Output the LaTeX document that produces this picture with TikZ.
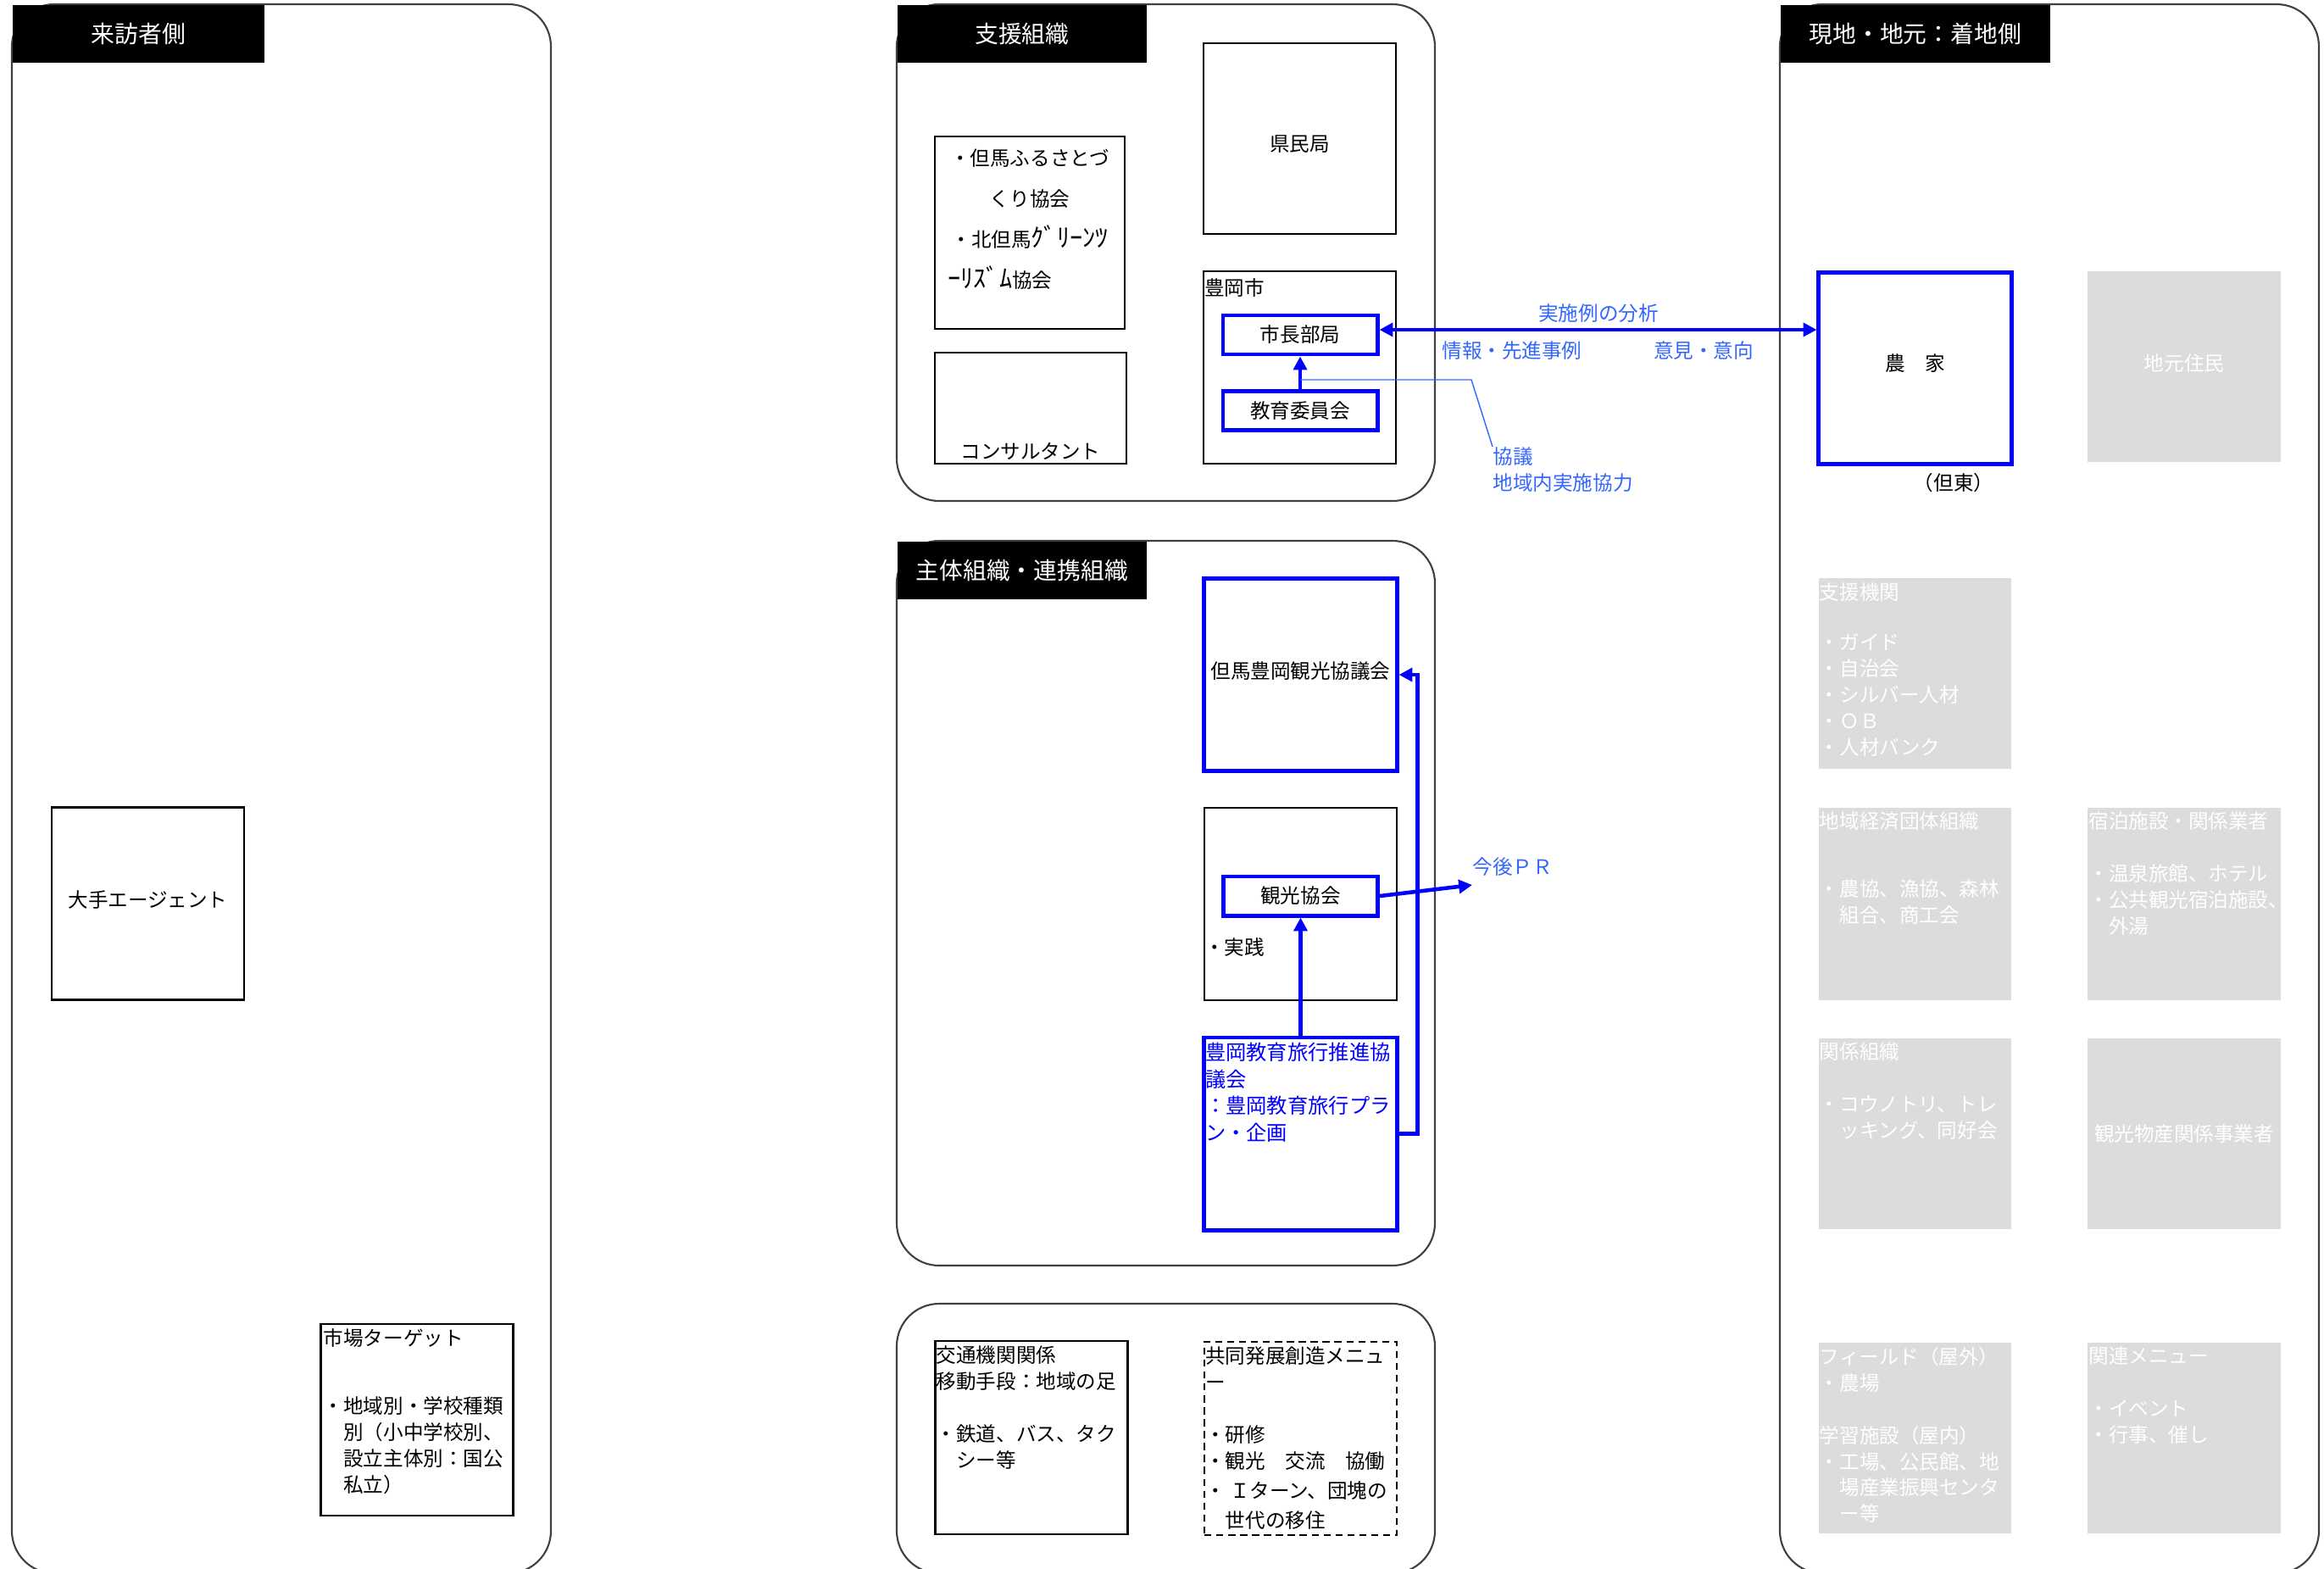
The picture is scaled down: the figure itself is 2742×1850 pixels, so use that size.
\documentclass[tikz,border=0pt]{standalone}
\usepackage{fontspec}
\setmainfont{Noto Sans CJK JP}
\usetikzlibrary{arrows.meta}

\definecolor{linkblue}{HTML}{0000FF}
\definecolor{noteblue}{HTML}{3366FF}
\definecolor{cellgray}{HTML}{DCDCDC}
\definecolor{framegray}{HTML}{404040}

\newcommand{\bodysize}{\fontsize{6.7pt}{8.8pt}\selectfont}
\newcommand{\tabsize}{\fontsize{7.9pt}{9.5pt}\selectfont}
\newcommand{\halfkana}[1]{{\fontsize{8.6pt}{13.6pt}\selectfont #1}}

\tikzset{
  every node/.style={font=\bodysize},
  panel/.style={draw=framegray, line width=0.6pt, rounded corners=0.5cm},
  titletab/.style={fill=black, text=white, font=\tabsize, anchor=north west,
    minimum height=0.68cm, inner sep=0pt},
  cellsize/.style={minimum width=2.27cm, minimum height=2.27cm, inner sep=0pt},
  blackbox/.style={cellsize, draw=black, line width=0.75pt},
  dashbox/.style={blackbox, dash pattern=on 2.4pt off 1.6pt},
  bluebox/.style={cellsize, draw=linkblue, line width=1.4pt},
  graybox/.style={cellsize, fill=cellgray, text=white},
  bluebar/.style={draw=linkblue, line width=1.4pt, minimum width=1.82cm,
    minimum height=0.46cm, inner sep=0pt},
  txt/.style={inner sep=0pt, align=left, anchor=north west},
  graytxt/.style={txt, text=white},
  note/.style={inner sep=0pt, text=noteblue},
  arr/.style={draw=linkblue, line width=1.3pt},
  >={Triangle[length=4.5pt,width=4.5pt]},
}

\begin{document}
\begin{tikzpicture}[x=0.01cm, y=-0.01cm]
\useasboundingbox (0,0) rectangle (2742,1850);
\clip (0,0) rectangle (2742,1850);

% panels
\draw[panel] (14,5) rectangle (650,1856);
\draw[panel] (1058,5) rectangle (1693,591);
\draw[panel] (1058,638) rectangle (1693,1493);
\draw[panel] (1058,1538) rectangle (1693,1856);
\draw[panel] (2100,5) rectangle (2736,1856);

\node[titletab, minimum width=2.97cm] (visitor) at (14,5) {来訪者側};
\node[titletab, minimum width=2.94cm] (support) at (1058,5) {支援組織};
\node[titletab, minimum width=2.94cm] (actor) at (1058,638) {主体組織・連携組織};
\node[titletab, minimum width=3.18cm] (local) at (2100,5) {現地・地元：着地側};

% visitor side
\node[blackbox, text depth=0.3em] (agent) at (174.5,1066) {大手エージェント};
\node[blackbox, minimum height=2.26cm] (market) at (492,1675) {};
\node[txt] (markettxt) at ([xshift=0.04cm,yshift=-0.06cm]market.north west)
  {市場ターゲット\\[0.49cm]・地域別・学校種類\\　別（小中学校別、\\　設立主体別：国公\\　私立）};

% support
\node[blackbox, minimum height=2.25cm, text height=0.92em] (kenmin) at (1533.5,163.5) {県民局};
\node[blackbox, minimum width=2.24cm] (furusato) at (1215,274.5) {};
\node[inner sep=0pt, align=center, font=\fontsize{6.7pt}{13.6pt}\selectfont] (furusatotxt)
  at ([yshift=0.16cm]furusato.center)
  {・但馬ふるさとづ\\くり協会\\・北但馬\halfkana{ｸﾞﾘｰﾝﾂ}\\\halfkana{ｰﾘｽﾞﾑ}協会\rule{0.70cm}{0pt}};
\node[blackbox, minimum width=2.26cm, minimum height=1.31cm] (consul) at (1216,481.5) {};
\node[inner sep=0pt, anchor=south] (consultxt) at ([yshift=0.05cm]consul.south) {コンサルタント};
\node[blackbox] (toyooka) at (1533.5,433.5) {};
\node[txt] (toyookatxt) at ([xshift=0.02cm,yshift=-0.09cm]toyooka.north west) {豊岡市};
\node[bluebar] (shicho) at (1534,395) {市長部局};
\node[bluebar] (kyoiku) at (1534,484.5) {教育委員会};
\draw[arr, ->] (kyoiku) -- (shicho);
\node[note, txt] (kyogi) at (1761,527) {協議\\地域内実施協力};
\draw[noteblue, line width=0.4pt] ([yshift=0.11cm]kyoiku.north) -- ++(202,0) -- (kyogi.north west);

% farm link
\node[bluebox, minimum height=2.25cm, text depth=0.37em] (noka) at (2259.5,434.5) {農　家};
\node[inner sep=0pt] (tanto) at (2305,570) {（但東）};
\draw[arr, <->] (shicho.east |- 0,389) -- (noka.west |- 0,389);
\node[note] (bunseki) at (1886,370) {実施例の分析};
\node[note] (joho) at (1784,414) {情報・先進事例};
\node[note] (iken) at (2010,414) {意見・意向};

% actors
\node[bluebox, text depth=0.3em] (tajima) at (1534.5,796) {但馬豊岡観光協議会};
\node[blackbox] (kankobox) at (1534.5,1066.5) {};
\node[bluebar] (kanko) at (1534.5,1057) {観光協会};
\node[inner sep=0pt, anchor=west] (jissen) at ([xshift=0.01cm,yshift=-0.505cm]kankobox.west) {・実践};
\node[bluebox] (suishin) at (1534.5,1337.5) {};
\node[txt, text=linkblue, font=\fontsize{6.9pt}{8.95pt}\selectfont] (suishintxt)
  at ([xshift=0.03cm,yshift=-0.08cm]suishin.north west)
  {豊岡教育旅行推進協\\議会\\：豊岡教育旅行プラ\\ン・企画};
\draw[arr, ->] (suishin) -- (kanko);
\draw[arr, ->] (suishin.east) -- ++(22,0) |- (tajima.east);
\node[note, anchor=west] (pr) at (1737,1023) {今後ＰＲ};
\draw[arr, ->] (kanko.east) -- ([yshift=-0.21cm]pr.west);

% transport and menu
\node[blackbox, minimum height=2.28cm] (kotsu) at (1217,1696) {};
\node[txt] (kotsutxt) at ([xshift=0.02cm,yshift=-0.06cm]kotsu.north west)
  {交通機関関係\\移動手段：地域の足\\[0.31cm]・鉄道、バス、タク\\　シー等};
\node[dashbox, minimum height=2.28cm] (kyodo) at (1534.5,1697) {};
\node[txt] (kyodotxt) at ([xshift=0.02cm,yshift=-0.06cm]kyodo.north west)
  {共同発展創造メニュ\\ー\\[0.31cm]・研修\\・観光　交流　協働\\[0.05cm]・ Ｉターン、団塊の\\[0.04cm]　世代の移住};

% local side
\node[graybox, minimum height=2.25cm, text depth=0.3em] (jimoto) at (2577,432.5) {地元住民};
\node[graybox, minimum height=2.25cm] (shien) at (2259.5,794.5) {};
\node[graytxt] (shientxt) at ([xshift=0.01cm,yshift=-0.06cm]shien.north west)
  {支援機関\\[0.28cm]・ガイド\\・自治会\\・シルバー人材\\・ＯＢ\\・人材バンク};
\node[graybox] (keizai) at (2259.5,1066.5) {};
\node[graytxt] (keizaitxt) at ([xshift=0.01cm,yshift=-0.05cm]keizai.north west)
  {地域経済団体組織\\[0.49cm]・農協、漁協、森林\\　組合、商工会};
\node[graybox] (shukuhaku) at (2577,1066.5) {};
\node[graytxt] (shukuhakutxt) at ([xshift=0.01cm,yshift=-0.05cm]shukuhaku.north west)
  {宿泊施設・関係業者\\[0.31cm]・温泉旅館、ホテル\\・公共観光宿泊施設、\\　外湯};
\node[graybox, minimum height=2.25cm] (kankei) at (2259.5,1337.5) {};
\node[graytxt] (kankeitxt) at ([xshift=0.01cm,yshift=-0.05cm]kankei.north west)
  {関係組織\\[0.31cm]・コウノトリ、トレ\\　ッキング、同好会};
\node[graybox, minimum height=2.25cm] (bussan) at (2577,1337.5) {観光物産関係事業者};
\node[graybox, minimum height=2.25cm] (field) at (2259.5,1696.5) {};
\node[graytxt] (fieldtxt) at ([xshift=0.01cm,yshift=-0.05cm]field.north west)
  {フィールド（屋外）\\・農場\\[0.31cm]学習施設（屋内）\\・工場、公民館、地\\　場産業振興センタ\\　ー等};
\node[graybox, minimum height=2.25cm] (kanren) at (2577,1696.5) {};
\node[graytxt] (kanrentxt) at ([xshift=0.01cm,yshift=-0.05cm]kanren.north west)
  {関連メニュー\\[0.31cm]・イベント\\・行事、催し};
\end{tikzpicture}
\end{document}
